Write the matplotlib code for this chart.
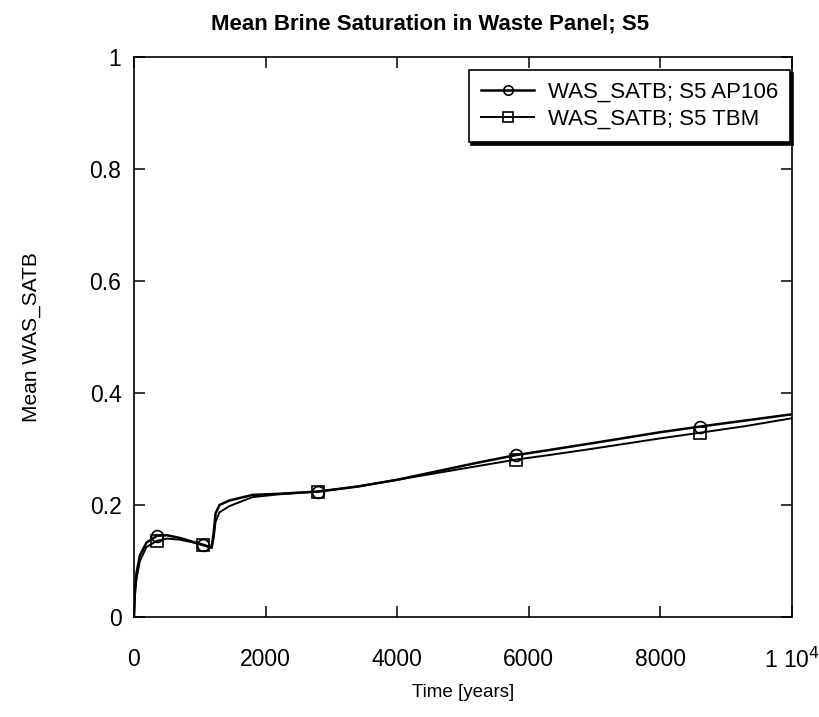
import matplotlib
matplotlib.use("Agg")
import matplotlib.pyplot as plt

plt.rcParams['font.family'] = ['Liberation Sans', 'DejaVu Sans']

time_ap106 = [0, 15, 40, 90, 190, 350, 500, 700, 900, 1050, 1180, 1210, 1240, 1300,
              1450, 1800, 2200, 2800, 3400, 4000, 4600, 5200, 5800, 6300, 7000, 8000,
              8600, 9300, 10000]
satb_ap106 = [0, 0.05, 0.08, 0.11, 0.133, 0.145, 0.146, 0.141, 0.134, 0.129, 0.124,
              0.15, 0.185, 0.200, 0.208, 0.218, 0.220, 0.224, 0.233, 0.245, 0.260,
              0.275, 0.289, 0.298, 0.311, 0.330, 0.340, 0.351, 0.362]

time_tbm = [0, 15, 40, 90, 190, 350, 500, 700, 900, 1050, 1180, 1210, 1240, 1300,
            1450, 1800, 2200, 2800, 3400, 4000, 4600, 5200, 5800, 6300, 7000, 8000,
            8600, 9300, 10000]
satb_tbm = [0, 0.04, 0.07, 0.10, 0.125, 0.136, 0.140, 0.138, 0.133, 0.128, 0.123,
            0.14, 0.17, 0.187, 0.198, 0.214, 0.219, 0.224, 0.233, 0.245, 0.257,
            0.269, 0.281, 0.289, 0.301, 0.319, 0.329, 0.341, 0.355]

marker_idx = [5, 9, 17, 22, 26]

xticks = [0, 2000, 4000, 6000, 8000, 10000]
xticklabels = ['0', '2000', '4000', '6000', '8000', r'1 10$^{4}$']
yticks = [0, 0.2, 0.4, 0.6, 0.8, 1.0]
yticklabels = ['0', '0.2', '0.4', '0.6', '0.8', '1']

fig = plt.figure(figsize=(8.2, 7.17), dpi=100)
ax = fig.add_axes([0.1634, 0.1395, 0.8025, 0.781])

ax.plot(time_ap106, satb_ap106, color='black', lw=1.8, marker='o', ms=8.5,
        mfc='none', mec='black', mew=1.2, markevery=marker_idx,
        label='WAS_SATB; S5 AP106')
ax.plot(time_tbm, satb_tbm, color='black', lw=1.4, marker='s', ms=8.5,
        mfc='none', mec='black', mew=1.2, markevery=marker_idx,
        label='WAS_SATB; S5 TBM')

ax.set_xlim(0, 10000)
ax.set_ylim(0, 1)
ax.set_xticks(xticks)
ax.set_xticklabels(xticklabels)
ax.set_yticks(yticks)
ax.set_yticklabels(yticklabels)
ax.tick_params(direction='in', length=8, width=1.1, top=True, right=True,
               labelsize=16.5)
ax.tick_params(axis='x', pad=22)
ax.tick_params(axis='y', pad=9)
for s in ax.spines.values():
    s.set_linewidth(1.2)

ax.set_xlabel('Time [years]', fontsize=13.5, labelpad=8)
ax.set_ylabel('Mean WAS_SATB', fontsize=15, labelpad=35)
ax.set_title('Mean Brine Saturation in Waste Panel; S5', fontsize=16,
             fontweight='bold', pad=20, x=0.45)

leg = ax.legend(loc='upper right', bbox_to_anchor=(0.997, 0.977), borderaxespad=0,
                fontsize=16, frameon=True, fancybox=False, handlelength=2.4,
                borderpad=0.55, labelspacing=0.25, handletextpad=0.6,
                markerscale=0.8, shadow={'color': 'black', 'alpha': 1.0})
leg.get_frame().set_edgecolor('black')
leg.get_frame().set_linewidth(1.2)

fig.savefig('out.png', dpi=100)
